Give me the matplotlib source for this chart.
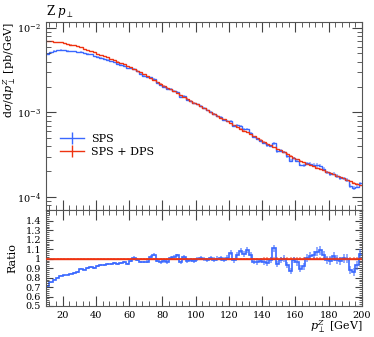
import numpy as np
import matplotlib
matplotlib.use("Agg")
import matplotlib.pyplot as plt
from matplotlib.ticker import MultipleLocator, FixedLocator, FuncFormatter, LogLocator, NullFormatter

plt.rcParams['font.family'] = ['DejaVu Serif']
plt.rcParams['mathtext.fontset'] = 'dejavuserif'

# 2 GeV bins from 10 to 200
edges = np.arange(10, 201, 2)
centers = 0.5 * (edges[:-1] + edges[1:])

# SPS + DPS, log10 of dsigma/dpT [pb/GeV]
sps_dps_log10 = np.array([
    -2.155, -2.158, -2.162, -2.166, -2.170, -2.176, -2.186, -2.196, -2.207, -2.219,
    -2.231, -2.245, -2.259, -2.274, -2.289, -2.304, -2.319, -2.334, -2.349, -2.365,
    -2.381, -2.397, -2.414, -2.431, -2.449, -2.467, -2.486, -2.505, -2.527, -2.549,
    -2.571, -2.594, -2.616, -2.638, -2.660, -2.683, -2.705, -2.727, -2.749, -2.772,
    -2.794, -2.816, -2.838, -2.861, -2.883, -2.905, -2.927, -2.950, -2.972, -2.994,
    -3.016, -3.039, -3.061, -3.083, -3.105, -3.127, -3.149, -3.171, -3.193, -3.215,
    -3.237, -3.259, -3.281, -3.303, -3.325, -3.347, -3.369, -3.391, -3.413, -3.435,
    -3.447, -3.468, -3.490, -3.512, -3.534, -3.556, -3.574, -3.590, -3.606, -3.622,
    -3.638, -3.654, -3.670, -3.686, -3.702, -3.718, -3.734, -3.750, -3.766, -3.782,
    -3.798, -3.814, -3.830, -3.846, -3.862])
sps_dps = 10 ** sps_dps_log10

# SPS / (SPS + DPS)
ratio_sps = np.array([
    0.71, 0.75, 0.78, 0.80, 0.82, 0.825, 0.83, 0.84, 0.85, 0.86,
    0.895, 0.885, 0.90, 0.915, 0.90, 0.92, 0.93, 0.935, 0.94, 0.945,
    0.95, 0.945, 0.955, 0.965, 0.945, 0.975, 1.01, 0.985, 0.965, 0.965,
    0.97, 1.02, 1.04, 0.975, 0.96, 0.975, 0.965, 1.01, 1.02, 1.035,
    0.96, 1.02, 0.975, 0.985, 0.975, 1.0, 1.01, 1.0, 0.99, 1.005,
    0.99, 1.0, 1.005, 0.99, 1.01, 1.065, 0.985, 1.04, 1.085, 1.05,
    1.09, 1.04, 0.97, 0.965, 0.98, 0.96, 0.95, 0.985, 1.11, 0.94,
    0.985, 1.0, 0.935, 0.87, 0.985, 0.96, 0.895, 0.92, 1.01, 1.03,
    1.04, 1.075, 1.09, 1.04, 0.985, 0.98, 1.025, 0.99, 0.975, 1.005,
    1.0, 0.88, 0.86, 0.93, 1.05])

# relative errors
err_sps = np.array([
    0.008, 0.008, 0.008, 0.008, 0.008, 0.008, 0.008, 0.008, 0.008, 0.008,
    0.009, 0.009, 0.009, 0.009, 0.009, 0.010, 0.010, 0.010, 0.010, 0.010,
    0.012, 0.012, 0.012, 0.012, 0.012, 0.013, 0.013, 0.013, 0.013, 0.013,
    0.015, 0.015, 0.015, 0.015, 0.015, 0.017, 0.017, 0.017, 0.017, 0.017,
    0.020, 0.020, 0.020, 0.020, 0.020, 0.022, 0.022, 0.022, 0.022, 0.022,
    0.025, 0.025, 0.025, 0.025, 0.025, 0.027, 0.027, 0.027, 0.027, 0.027,
    0.030, 0.030, 0.030, 0.030, 0.030, 0.033, 0.033, 0.033, 0.033, 0.033,
    0.036, 0.036, 0.036, 0.036, 0.036, 0.040, 0.040, 0.040, 0.040, 0.040,
    0.043, 0.043, 0.043, 0.043, 0.043, 0.046, 0.046, 0.046, 0.046, 0.046,
    0.050, 0.050, 0.050, 0.050, 0.050])
err_sps_dps = np.array([
    0.003, 0.003, 0.003, 0.003, 0.003, 0.003, 0.003, 0.003, 0.003, 0.003,
    0.004, 0.004, 0.004, 0.004, 0.004, 0.004, 0.004, 0.004, 0.004, 0.004,
    0.005, 0.005, 0.005, 0.005, 0.005, 0.005, 0.005, 0.005, 0.005, 0.005,
    0.006, 0.006, 0.006, 0.006, 0.006, 0.007, 0.007, 0.007, 0.007, 0.007,
    0.008, 0.008, 0.008, 0.008, 0.008, 0.009, 0.009, 0.009, 0.009, 0.009,
    0.010, 0.010, 0.010, 0.010, 0.010, 0.011, 0.011, 0.011, 0.011, 0.011,
    0.012, 0.012, 0.012, 0.012, 0.012, 0.013, 0.013, 0.013, 0.013, 0.013,
    0.014, 0.014, 0.014, 0.014, 0.014, 0.015, 0.015, 0.015, 0.015, 0.015,
    0.016, 0.016, 0.016, 0.016, 0.016, 0.017, 0.017, 0.017, 0.017, 0.017,
    0.018, 0.018, 0.018, 0.018, 0.018])

sps = ratio_sps * sps_dps

blue = '#3a68ff'
red = '#ee3311'

fig = plt.figure(figsize=(3.74, 3.37), dpi=100)
ax = fig.add_axes([0.123, 0.377, 0.845, 0.558])
rax = fig.add_axes([0.123, 0.092, 0.845, 0.285], sharex=ax)

def draw(a, y, rel, color, label=None, alpha=0.55, lw=1.0):
    a.errorbar(centers, y, yerr=rel * y, fmt='none', ecolor=color, elinewidth=1.1, alpha=alpha)
    a.stairs(y, edges, color=color, lw=lw, baseline=None)
    if label:
        a.plot([], [], color=color, lw=1.0, marker='|', markersize=9, markeredgewidth=1.0, label=label)

draw(ax, sps, err_sps, blue, 'SPS')
draw(ax, sps_dps, err_sps_dps, red, 'SPS + DPS')

draw(rax, np.ones_like(centers), err_sps_dps, red)
draw(rax, ratio_sps, err_sps, blue, alpha=0.7, lw=1.2)
rax.stairs(np.ones_like(centers), edges, color=red, lw=1.2, baseline=None, zorder=5)

ax.set_yscale('log')
ax.set_xlim(10, 200)
ax.set_ylim(7e-5, 1.18e-2)
rax.set_ylim(0.5, 1.515)

for a in (ax, rax):
    a.tick_params(which='both', direction='in', top=True, right=True, labelsize=7, colors='#444444', labelcolor='black')
    a.tick_params(which='major', length=7, width=0.8)
    a.tick_params(which='minor', length=3.5, width=0.6)
    for s in a.spines.values():
        s.set_color('#555555')
        s.set_linewidth(0.8)
    a.xaxis.set_major_locator(MultipleLocator(20))
    a.xaxis.set_minor_locator(MultipleLocator(4))

ax.yaxis.set_major_locator(LogLocator(base=10, numticks=10))
ax.yaxis.set_minor_locator(LogLocator(base=10, subs=np.arange(2, 10), numticks=10))
ax.yaxis.set_minor_formatter(NullFormatter())
ax.tick_params(axis='x', labelbottom=False)

rax.yaxis.set_major_locator(FixedLocator(np.arange(0.5, 1.45, 0.1)))
rax.yaxis.set_minor_locator(MultipleLocator(0.02))
rax.yaxis.set_major_formatter(FuncFormatter(lambda v, p: '%g' % round(v, 2)))
rax.tick_params(axis='y', which='major', length=5)
rax.tick_params(axis='y', which='minor', length=2.5)

ax.set_ylabel(r'$\mathrm{d}\sigma/\mathrm{d}p_\perp^Z$ [pb/GeV]', fontsize=8, loc='top')
rax.set_ylabel('Ratio', fontsize=8)
rax.set_xlabel(r'$p_\perp^Z$ [GeV]', fontsize=8, loc='right')
ax.yaxis.set_label_coords(-0.09, 1.0)
rax.yaxis.set_label_coords(-0.09, 0.5)
rax.xaxis.set_label_coords(1.0, -0.13)

fig.text(0.123, 0.965, r'Z $p_\perp$', fontsize=8.5, va='center', ha='left')

ax.legend(loc='upper left', bbox_to_anchor=(0.03, 0.43), frameon=False, fontsize=8,
          handlelength=2.2, handletextpad=0.6, labelspacing=0.3, borderaxespad=0)

fig.savefig('out.png', dpi=100)
